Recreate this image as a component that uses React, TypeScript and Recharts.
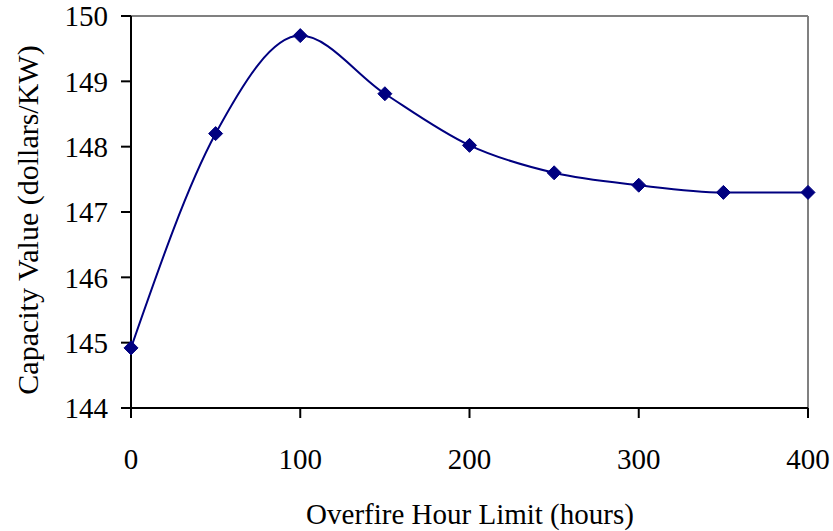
import React from "react";
import { LineChart, Line, XAxis, YAxis, ReferenceLine } from "recharts";

const hours = [0, 50, 100, 150, 200, 250, 300, 350, 400];
const capacityValue = [144.92, 148.2, 149.7, 148.81, 148.02, 147.6, 147.41, 147.3, 147.3];
const xTicks = [0, 100, 200, 300, 400];
const yTicks = [144, 145, 146, 147, 148, 149, 150];

const data = hours.map((h, i) => ({ h, v: capacityValue[i] }));

const FONT = "Liberation Serif";
const FS = 29;
const NAVY = "#000080";

const Diamond = (props: any) => {
  const { cx, cy } = props;
  if (cx == null || cy == null) return null;
  const r = 7;
  return (
    <path
      d={`M${cx},${cy - r}L${cx + r},${cy}L${cx},${cy + r}L${cx - r},${cy}Z`}
      fill={NAVY}
      stroke={NAVY}
    />
  );
};

const YLabel = () => (
  <text
    x={27}
    y={220}
    transform="rotate(-90 27 220)"
    textAnchor="middle"
    dominantBaseline="central"
    fontFamily={FONT}
    fontSize={30}
    fill="#000"
  >
    Capacity Value (dollars/KW)
  </text>
);

const XLabel = () => (
  <text
    x={470}
    y={514}
    textAnchor="middle"
    dominantBaseline="central"
    fontFamily={FONT}
    fontSize={FS}
    fill="#000"
  >
    Overfire Hour Limit (hours)
  </text>
);

export default function App() {
  return (
    <div style={{ position: "absolute", left: 0, top: 0, background: "#fff" }}>
      <LineChart
        width={833}
        height={531}
        data={data}
        margin={{ top: 16, right: 25, left: 0, bottom: 0 }}
      >
        <ReferenceLine y={150} stroke="#808080" strokeWidth={2} ifOverflow="visible" />
        <ReferenceLine x={400} stroke="#808080" strokeWidth={2} ifOverflow="visible" />
        <XAxis
          dataKey="h"
          type="number"
          domain={[0, 400]}
          ticks={xTicks}
          height={123}
          tickSize={10}
          tickMargin={30}
          axisLine={{ stroke: "#000", strokeWidth: 2 }}
          tickLine={{ stroke: "#000", strokeWidth: 2 }}
          tick={{ fill: "#000", fontSize: FS, fontFamily: FONT }}
          label={<XLabel />}
        />
        <YAxis
          type="number"
          domain={[144, 150]}
          ticks={yTicks}
          width={131}
          tickSize={10}
          tickMargin={13}
          axisLine={{ stroke: "#000", strokeWidth: 2 }}
          tickLine={{ stroke: "#000", strokeWidth: 2 }}
          tick={{ fill: "#000", fontSize: FS, fontFamily: FONT }}
          label={<YLabel />}
          interval={0}
        />
        <Line
          type="monotone"
          dataKey="v"
          stroke={NAVY}
          strokeWidth={2}
          dot={<Diamond />}
          activeDot={false}
          isAnimationActive={false}
        />
      </LineChart>
    </div>
  );
}
